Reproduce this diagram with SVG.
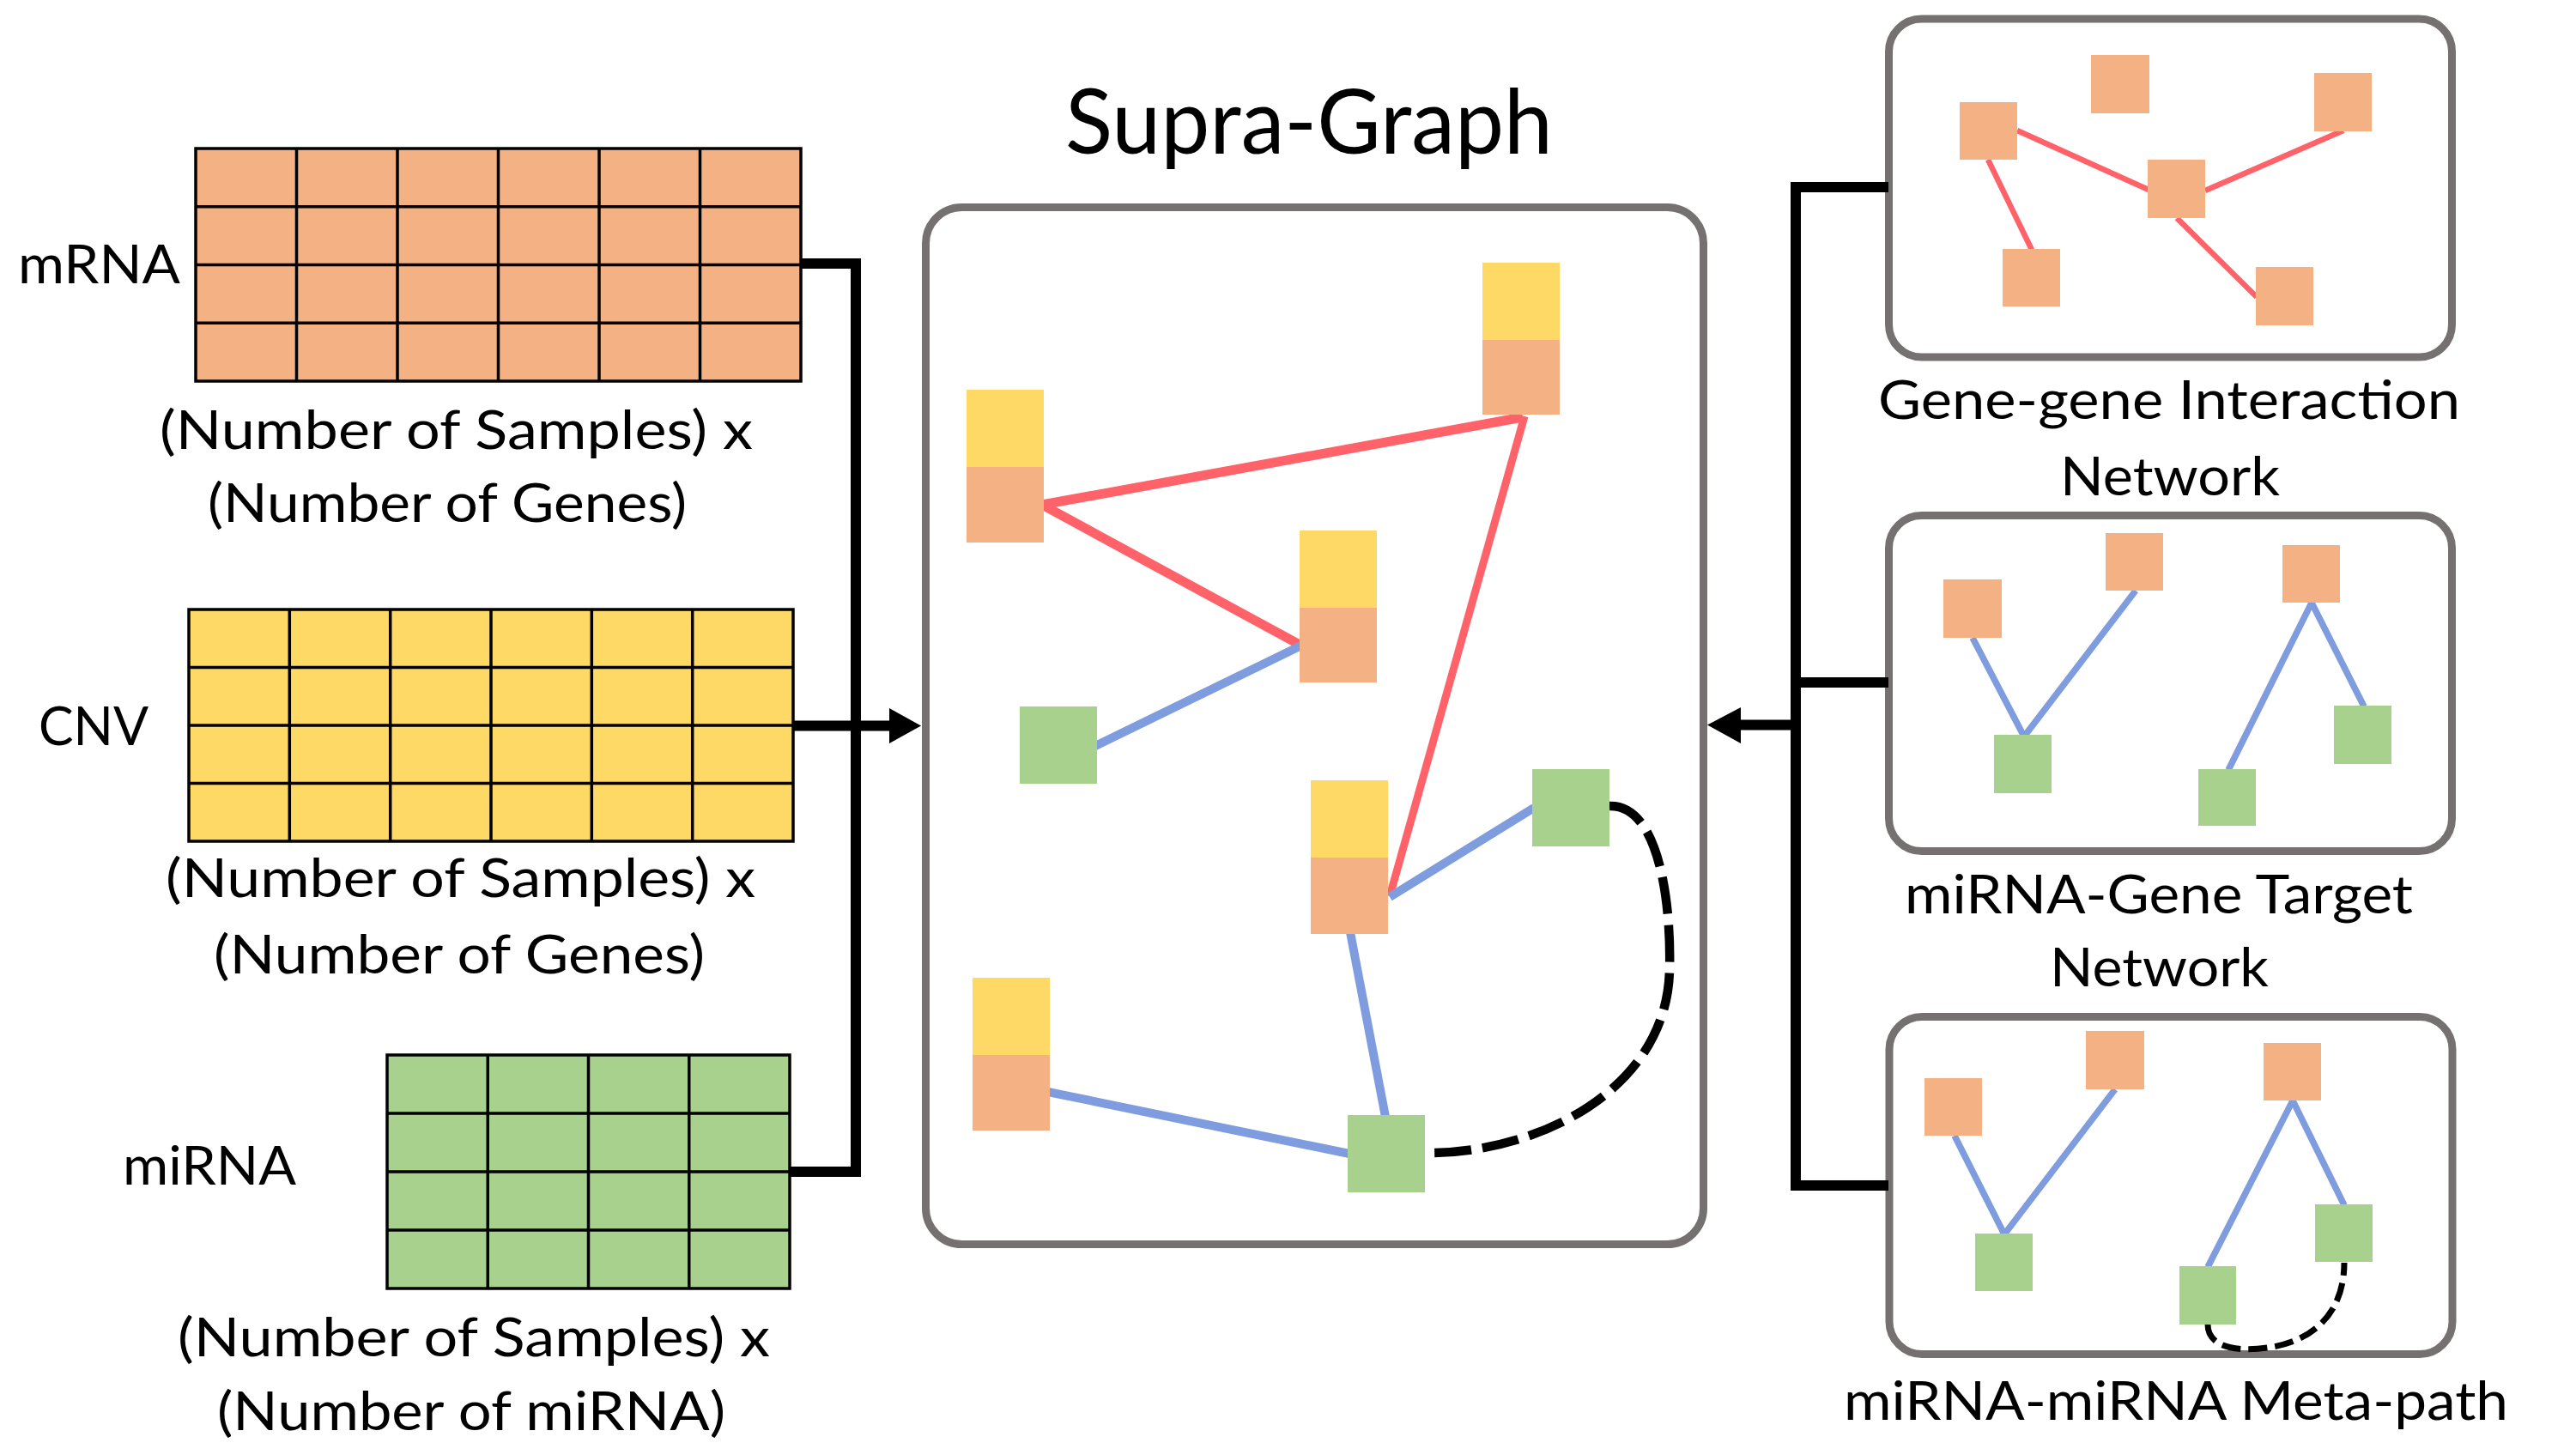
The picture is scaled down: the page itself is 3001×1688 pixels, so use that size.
<svg xmlns="http://www.w3.org/2000/svg" width="3001" height="1688" viewBox="0 0 3001 1688">
<style>
  text { font-family: Lato, "Liberation Sans", sans-serif; fill: #000; }
  .lbl { font-size: 62px; }
  .title { font-size: 104px; }
  .grid { stroke: #000; stroke-width: 3.5; }
  .or { fill: #F4B183; }
  .ye { fill: #FFD966; }
  .gr { fill: #A9D18E; }
  .box { fill: none; stroke: #767171; stroke-width: 9; }
  .conn { fill: none; stroke: #000; stroke-width: 12; stroke-linejoin: miter; stroke-linecap: butt; }
  .red { stroke: #FF6369; fill: none; stroke-linecap: butt; }
  .blue { stroke: #7F9CDE; fill: none; stroke-linecap: butt; }
  .dash { stroke: #000; fill: none; stroke-linecap: butt; }
</style>
<rect width="3001" height="1688" fill="#fff"/>

<!-- Left matrices -->
<g id="mrna-matrix">
  <rect x="228" y="173" width="705" height="271" class="or grid"/>
  <path class="grid" d="M345.5 173V444M463 173V444M580.5 173V444M698 173V444M815.5 173V444M228 240.75H933M228 308.5H933M228 376.25H933"/>
  <text class="lbl" x="21" y="330" textLength="189" lengthAdjust="spacingAndGlyphs">mRNA</text>
  <text class="lbl" x="186" y="523" textLength="691" lengthAdjust="spacingAndGlyphs">(Number of Samples) x</text>
  <text class="lbl" x="242" y="608" textLength="558" lengthAdjust="spacingAndGlyphs">(Number of Genes)</text>
</g>
<g id="cnv-matrix">
  <rect x="220" y="710" width="704" height="270" class="ye grid"/>
  <path class="grid" d="M337.3 710V980M454.7 710V980M572 710V980M689.3 710V980M806.7 710V980M220 777.5H924M220 845H924M220 912.5H924"/>
  <text class="lbl" x="45" y="868" textLength="128" lengthAdjust="spacingAndGlyphs">CNV</text>
  <text class="lbl" x="193" y="1045" textLength="687" lengthAdjust="spacingAndGlyphs">(Number of Samples) x</text>
  <text class="lbl" x="249" y="1134" textLength="572" lengthAdjust="spacingAndGlyphs">(Number of Genes)</text>
</g>
<g id="mirna-matrix">
  <rect x="451" y="1229" width="469" height="272" class="gr grid"/>
  <path class="grid" d="M568.25 1229V1501M685.5 1229V1501M802.75 1229V1501M451 1297H920M451 1365H920M451 1433H920"/>
  <text class="lbl" x="143" y="1380" textLength="202" lengthAdjust="spacingAndGlyphs">miRNA</text>
  <text class="lbl" x="207" y="1580" textLength="690" lengthAdjust="spacingAndGlyphs">(Number of Samples) x</text>
  <text class="lbl" x="253" y="1666" textLength="592" lengthAdjust="spacingAndGlyphs">(Number of miRNA)</text>
</g>

<!-- Supra-graph frame -->
<g id="supra-graph">
  <text class="title" x="1241" y="179" textLength="568" lengthAdjust="spacingAndGlyphs">Supra-Graph</text>
  <rect class="box" x="1078.5" y="241.5" width="906" height="1208" rx="42"/>
</g>

<!-- Right panels frames -->
<g id="gene-gene-panel">
  <rect class="box" x="2200.5" y="22" width="656" height="394" rx="38"/>
  <text class="lbl" x="2188" y="488" textLength="678" lengthAdjust="spacingAndGlyphs">Gene-gene Interaction</text>
  <text class="lbl" x="2400" y="577" textLength="256" lengthAdjust="spacingAndGlyphs">Network</text>
</g>
<g id="mirna-gene-panel">
  <rect class="box" x="2200.5" y="600.5" width="656" height="391" rx="38"/>
  <text class="lbl" x="2219" y="1064" textLength="592" lengthAdjust="spacingAndGlyphs">miRNA-Gene Target</text>
  <text class="lbl" x="2388" y="1149" textLength="255" lengthAdjust="spacingAndGlyphs">Network</text>
</g>
<g id="mirna-mirna-panel">
  <rect class="box" x="2201" y="1184.5" width="656" height="393" rx="38"/>
  <text class="lbl" x="2148" y="1654" textLength="774" lengthAdjust="spacingAndGlyphs">miRNA-miRNA Meta-path</text>
</g>

<!-- Connectors -->
<g id="connectors">
  <!-- left input bus -->
  <path class="conn" d="M933 307H997V1365H920"/>
  <path class="conn" d="M924 845.5H1040"/>
  <polygon points="1036,825 1073,845.5 1036,866" fill="#000"/>
  <!-- right input bus -->
  <path class="conn" d="M2200 218H2092V1381H2200"/>
  <path class="conn" d="M2200 795H2092"/>
  <path class="conn" d="M2092 844.5H2024"/>
  <polygon points="2028,824 1989,844.5 2028,866" fill="#000"/>

  <!-- supra-graph edges -->
  <path class="red" stroke-width="11" d="M1214 588L1774 486"/>
  <path class="red" stroke-width="11" d="M1214 588L1516 752"/>
  <path class="red" stroke-width="9" d="M1776 485L1619 1044"/>
  <path class="blue" stroke-width="10" d="M1276 869L1516 752"/>
  <path class="blue" stroke-width="10" d="M1619 1045L1787 941"/>
  <path class="blue" stroke-width="10" d="M1573 1086L1614 1301"/>
  <path class="blue" stroke-width="10" d="M1221 1272L1572 1344"/>
  <path class="dash" stroke-width="10.5" stroke-dasharray="43 13" d="M1875 939C1935 937 1947 1060 1945 1130C1942 1270 1790 1345 1659 1343"/>

  <!-- gene-gene panel edges -->
  <path class="red" stroke-width="6.5" d="M2350 152L2503 221M2730 152L2569 222M2316 186L2367 291M2536 254L2629 346"/>
  <!-- miRNA-gene panel edges -->
  <path class="blue" stroke-width="7.5" d="M2298 743L2358 858L2488 688M2596 897L2693 702L2754 823"/>
  <!-- miRNA-miRNA panel edges -->
  <path class="blue" stroke-width="7.5" d="M2277 1323L2335 1438L2464 1269M2572 1476L2671 1282L2731 1404"/>
  <path class="dash" stroke-width="7" stroke-dasharray="22 9" d="M2572 1543C2572 1573 2615 1575 2648 1569C2702 1559 2731 1523 2731 1471"/>
</g>

<!-- Supra-graph nodes -->
<g id="supra-n1"><rect class="ye" x="1126" y="454" width="90" height="90"/><rect class="or" x="1126" y="544" width="90" height="88"/></g>
<g id="supra-n2"><rect class="ye" x="1727" y="306" width="90" height="90"/><rect class="or" x="1727" y="396" width="90" height="87"/></g>
<g id="supra-n3"><rect class="ye" x="1514" y="618" width="90" height="90"/><rect class="or" x="1514" y="708" width="90" height="87"/></g>
<g id="supra-n4"><rect class="ye" x="1527" y="909" width="90" height="90"/><rect class="or" x="1527" y="999" width="90" height="89"/></g>
<g id="supra-n5"><rect class="ye" x="1133" y="1139" width="90" height="90"/><rect class="or" x="1133" y="1229" width="90" height="88"/></g>
<g id="supra-ga"><rect class="gr" x="1188" y="823" width="90" height="90"/></g>
<g id="supra-gb"><rect class="gr" x="1785" y="896" width="90" height="90"/></g>
<g id="supra-gc"><rect class="gr" x="1570" y="1299" width="90" height="90"/></g>

<!-- Gene-gene panel nodes -->
<g id="gg-a"><rect class="or" x="2283" y="119" width="67" height="67"/></g>
<g id="gg-b"><rect class="or" x="2436" y="64" width="68" height="68"/></g>
<g id="gg-c"><rect class="or" x="2696" y="85" width="67" height="68"/></g>
<g id="gg-d"><rect class="or" x="2502" y="186" width="67" height="68"/></g>
<g id="gg-e"><rect class="or" x="2333" y="290" width="67" height="67"/></g>
<g id="gg-f"><rect class="or" x="2628" y="311" width="67" height="68"/></g>

<!-- miRNA-gene panel nodes -->
<g id="mg-oa"><rect class="or" x="2264" y="675" width="68" height="68"/></g>
<g id="mg-ob"><rect class="or" x="2453" y="621" width="67" height="67"/></g>
<g id="mg-oc"><rect class="or" x="2659" y="635" width="67" height="67"/></g>
<g id="mg-ga"><rect class="gr" x="2323" y="856" width="67" height="68"/></g>
<g id="mg-gb"><rect class="gr" x="2561" y="896" width="67" height="66"/></g>
<g id="mg-gc"><rect class="gr" x="2719" y="822" width="67" height="68"/></g>

<!-- miRNA-miRNA panel nodes -->
<g id="mm-oa"><rect class="or" x="2242" y="1256" width="67" height="67"/></g>
<g id="mm-ob"><rect class="or" x="2430" y="1201" width="68" height="68"/></g>
<g id="mm-oc"><rect class="or" x="2637" y="1215" width="67" height="67"/></g>
<g id="mm-ga"><rect class="gr" x="2301" y="1437" width="67" height="67"/></g>
<g id="mm-gb"><rect class="gr" x="2539" y="1475" width="66" height="68"/></g>
<g id="mm-gc"><rect class="gr" x="2697" y="1403" width="67" height="67"/></g>
</svg>
